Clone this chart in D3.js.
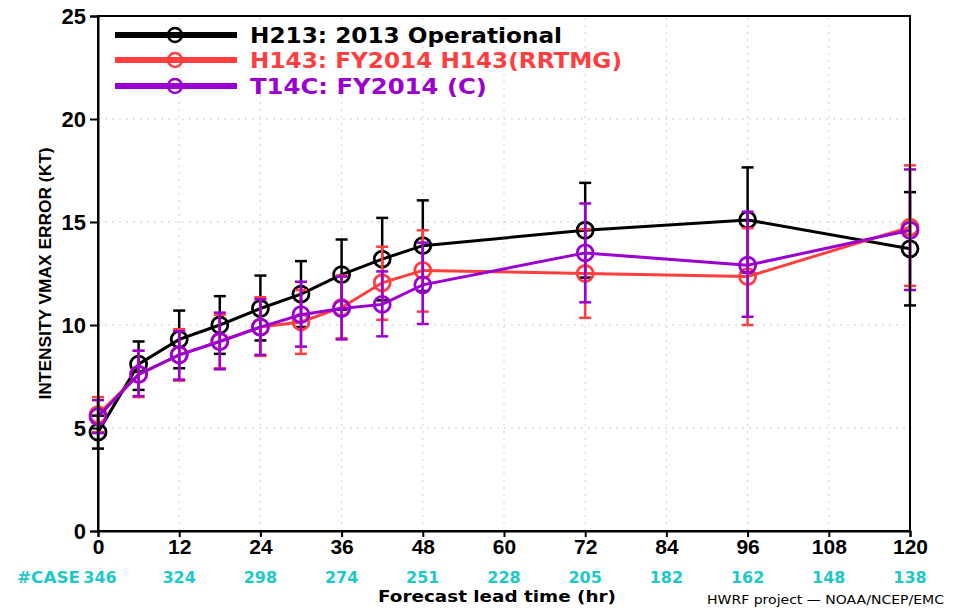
<!DOCTYPE html>
<html>
<head>
<meta charset="utf-8">
<script src="https://cdn.jsdelivr.net/npm/d3@7"></script>
<style>
  body { margin: 0; background: #fff; }
  svg { display: block; }
  .tick text { font-family: "Liberation Sans", Arial, sans-serif; font-weight: bold; }
</style>
</head>
<body>
<div id="chart"></div>
<script>
/* forecast hours where the verification was done */
var hours = [0, 6, 12, 18, 24, 30, 36, 42, 48, 72, 96, 120];

/* mean intensity error and the low / high ends of the error bars (kt) */
var h213Mean = [4.8, 8.1, 9.3, 10.0, 10.8, 11.5, 12.45, 13.2, 13.85, 14.6, 15.1, 13.7];
var h213Low  = [4.0, 6.85, 7.9, 8.6, 9.25, 9.9, 10.75, 11.2, 11.65, 12.3, 12.55, 10.95];
var h213High = [5.6, 9.2, 10.7, 11.4, 12.4, 13.1, 14.15, 15.2, 16.05, 16.9, 17.65, 16.45];

var h143Mean = [5.65, 7.6, 8.55, 9.2, 9.9, 10.15, 10.85, 12.05, 12.65, 12.5, 12.35, 14.75];
var h143Low  = [4.8, 6.5, 7.3, 7.9, 8.5, 8.6, 9.35, 10.25, 10.65, 10.35, 10.0, 11.9];
var h143High = [6.5, 8.75, 9.8, 10.5, 11.35, 11.7, 12.4, 13.8, 14.6, 14.65, 14.7, 17.75];

var t14cMean = [5.55, 7.6, 8.55, 9.2, 9.9, 10.5, 10.8, 11.0, 11.95, 13.5, 12.9, 14.6];
var t14cLow  = [4.75, 6.55, 7.35, 7.85, 8.55, 8.95, 9.3, 9.45, 10.05, 11.1, 10.4, 11.7];
var t14cHigh = [6.35, 8.75, 9.7, 10.6, 11.25, 12.1, 12.35, 12.6, 14.0, 15.9, 15.5, 17.55];

var seriesNames  = ["H213: 2013 Operational", "H143: FY2014 H143(RRTMG)", "T14C: FY2014 (C)"];
var seriesColors = ["#000000", "#ff3f3f", "#9a00d0"];

/* number of cases per lead time */
var caseHours  = [0, 12, 24, 36, 48, 60, 72, 84, 96, 108, 120];
var caseCounts = [346, 324, 298, 274, 251, 228, 205, 182, 162, 148, 138];

var yTicks = [0, 5, 10, 15, 20, 25];

var width = 965, height = 610;

var svg = d3.select("#chart").append("svg")
    .attr("width", width)
    .attr("height", height);

var x = d3.scaleLinear().domain([0, 120]).range([98, 910]);
var y = d3.scaleLinear().domain([0, 25]).range([531, 16]);

/* dotted grid */
var grid = svg.append("g").attr("class", "grid");
grid.selectAll("line.h")
    .data(yTicks.slice(1, -1))
    .enter().append("line")
    .attr("x1", x(0)).attr("x2", x(120))
    .attr("y1", function (d) { return y(d); })
    .attr("y2", function (d) { return y(d); });
grid.selectAll("line.v")
    .data(caseHours.slice(1, -1))
    .enter().append("line")
    .attr("x1", function (d) { return x(d); })
    .attr("x2", function (d) { return x(d); })
    .attr("y1", y(0)).attr("y2", y(25));
grid.selectAll("line")
    .attr("stroke", "#cfcfcf")
    .attr("stroke-width", 1)
    .attr("stroke-dasharray", "2,5");

/* series */
var allSeries = [
    { mean: h213Mean, low: h213Low, high: h213High },
    { mean: h143Mean, low: h143Low, high: h143High },
    { mean: t14cMean, low: t14cLow, high: t14cHigh }
];

var line = d3.line()
    .x(function (d) { return x(d.h); })
    .y(function (d) { return y(d.v); });

allSeries.forEach(function (s, i) {
    var color = seriesColors[i];
    var pts = hours.map(function (h, k) {
        return { h: h, v: s.mean[k], lo: s.low[k], hi: s.high[k] };
    });
    var g = svg.append("g").attr("class", "series");

    g.append("path")
        .datum(pts)
        .attr("fill", "none")
        .attr("stroke", color)
        .attr("stroke-width", 3)
        .attr("d", line);

    var bars = g.selectAll("g.bar").data(pts).enter().append("g");
    bars.append("line")
        .attr("x1", function (d) { return x(d.h); })
        .attr("x2", function (d) { return x(d.h); })
        .attr("y1", function (d) { return y(d.lo); })
        .attr("y2", function (d) { return y(d.hi); });
    bars.append("line")
        .attr("x1", function (d) { return x(d.h) - 6; })
        .attr("x2", function (d) { return x(d.h) + 6; })
        .attr("y1", function (d) { return y(d.lo); })
        .attr("y2", function (d) { return y(d.lo); });
    bars.append("line")
        .attr("x1", function (d) { return x(d.h) - 6; })
        .attr("x2", function (d) { return x(d.h) + 6; })
        .attr("y1", function (d) { return y(d.hi); })
        .attr("y2", function (d) { return y(d.hi); });
    bars.selectAll("line")
        .attr("stroke", color)
        .attr("stroke-width", 2.5);

    g.selectAll("circle").data(pts).enter().append("circle")
        .attr("cx", function (d) { return x(d.h); })
        .attr("cy", function (d) { return y(d.v); })
        .attr("r", 8)
        .attr("fill", "none")
        .attr("stroke", color)
        .attr("stroke-width", 2.8);
});

/* frame and axes */
svg.append("rect")
    .attr("x", x(0)).attr("y", y(25))
    .attr("width", x(120) - x(0))
    .attr("height", y(0) - y(25))
    .attr("fill", "none")
    .attr("stroke", "#000")
    .attr("stroke-width", 2);

var yAxis = svg.append("g")
    .attr("transform", "translate(" + x(0) + ",0)")
    .call(d3.axisLeft(y).tickValues(yTicks).tickSize(8).tickPadding(4));
yAxis.selectAll("text").attr("font-size", 22).attr("fill", "#000");

var xAxis = svg.append("g")
    .attr("transform", "translate(0," + y(0) + ")")
    .call(d3.axisBottom(x).tickValues(caseHours).tickSize(6).tickPadding(2));
xAxis.selectAll("text").attr("font-size", 21).attr("fill", "#000");

[yAxis, xAxis].forEach(function (a) {
    a.select(".domain").attr("stroke-width", 2);
    a.selectAll(".tick line").attr("stroke-width", 2);
});

/* y axis title */
svg.append("text")
    .attr("transform", "translate(51," + y(12.5) + ") rotate(-90)")
    .attr("text-anchor", "middle")
    .attr("font-family", "Liberation Sans, Arial, sans-serif")
    .attr("font-weight", "bold")
    .attr("font-size", 16)
    .attr("textLength", 252)
    .attr("lengthAdjust", "spacingAndGlyphs")
    .text("INTENSITY VMAX ERROR (KT)");

/* case counts */
var cyan = "#1fc8c8";
svg.append("g").selectAll("text")
    .data(caseHours)
    .enter().append("text")
    .attr("x", function (d) { return x(d) + (d === 0 ? 2 : 0); })
    .attr("y", 583)
    .attr("text-anchor", "middle")
    .attr("font-family", "DejaVu Sans, sans-serif")
    .attr("font-weight", "bold")
    .attr("font-size", 16)
    .attr("fill", cyan)
    .text(function (d, i) { return caseCounts[i]; });

svg.append("text")
    .attr("x", 17).attr("y", 583)
    .attr("font-family", "DejaVu Sans, sans-serif")
    .attr("font-weight", "bold")
    .attr("font-size", 16)
    .attr("fill", cyan)
    .attr("textLength", 63)
    .attr("lengthAdjust", "spacingAndGlyphs")
    .text("#CASE");

svg.append("text")
    .attr("x", 497).attr("y", 602)
    .attr("text-anchor", "middle")
    .attr("font-family", "DejaVu Sans, sans-serif")
    .attr("font-weight", "bold")
    .attr("font-size", 16)
    .attr("textLength", 238)
    .attr("lengthAdjust", "spacingAndGlyphs")
    .text("Forecast lead time (hr)");

svg.append("text")
    .attr("x", 707).attr("y", 604)
    .attr("font-family", "DejaVu Sans, sans-serif")
    .attr("font-size", 12)
    .attr("textLength", 237)
    .attr("lengthAdjust", "spacingAndGlyphs")
    .text("HWRF project \u2014 NOAA/NCEP/EMC");

/* legend */
var legendY = [35, 60, 86];
var legendLen = [312, 372, 237];
var legend = svg.append("g").attr("class", "legend");
seriesNames.forEach(function (name, i) {
    var row = legend.append("g").attr("transform", "translate(0," + legendY[i] + ")");
    row.append("line")
        .attr("x1", 115).attr("x2", 237)
        .attr("stroke", seriesColors[i])
        .attr("stroke-width", 6);
    row.append("circle")
        .attr("cx", 175).attr("r", 7)
        .attr("fill", "none")
        .attr("stroke", seriesColors[i])
        .attr("stroke-width", 2.5);
    row.append("text")
        .attr("x", 250).attr("y", 8)
        .attr("font-family", "DejaVu Sans, sans-serif")
        .attr("font-weight", "bold")
        .attr("font-size", 21)
        .attr("fill", seriesColors[i])
        .attr("textLength", legendLen[i])
        .attr("lengthAdjust", "spacingAndGlyphs")
        .text(name);
});
</script>
</body>
</html>
